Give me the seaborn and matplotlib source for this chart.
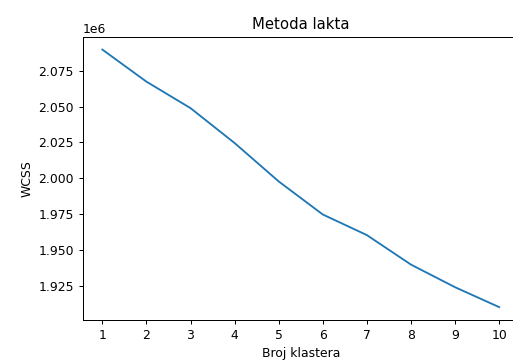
import matplotlib
matplotlib.use("Agg")
import matplotlib.pyplot as plt
import seaborn as sns
import pandas as pd

clusters = [1, 2, 3, 4, 5, 6, 7, 8, 9, 10]
wcss = [2089800, 2067400, 2048900, 2024500, 1997700, 1974600, 1960200, 1939600, 1923800, 1909900]

df = pd.DataFrame({"k": clusters, "wcss": wcss})

DPI = 89
fig = plt.figure(figsize=(513 / DPI, 361 / DPI), dpi=DPI)
ax = fig.add_axes([82.5 / 513, 41 / 361, (519 - 82.5) / 513, (320 - 36.7) / 361])
sns.lineplot(data=df, x="k", y="wcss", ax=ax, color="#1f77b4", linewidth=1.5)
ax.set_xticks(clusters)
ax.spines["right"].set_visible(False)
ax.set_title("Metoda lakta", fontsize=12)
ax.set_xlabel("Broj klastera", fontsize=10)
ax.set_ylabel("WCSS", fontsize=10)
fig.savefig("out.png", dpi=DPI)
